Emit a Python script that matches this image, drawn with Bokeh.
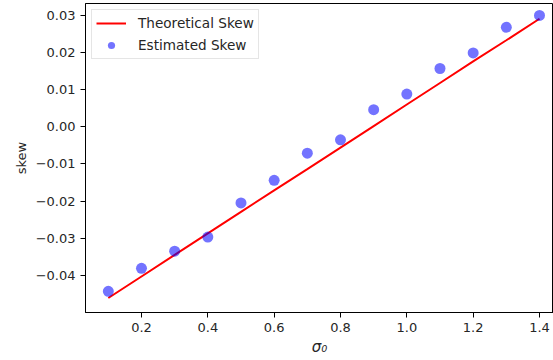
from bokeh.plotting import figure
from bokeh.models import Range1d, FixedTicker, CustomJSTickFormatter, Legend, LegendItem
from bokeh.embed import file_html
from bokeh.resources import INLINE

sigma0 = [0.1, 0.2, 0.3, 0.4, 0.5, 0.6, 0.7, 0.8, 0.9, 1.0, 1.1, 1.2, 1.3, 1.4]
theoretical_skew = [-0.0461, -0.0403, -0.0345, -0.0287, -0.0229, -0.0171, -0.0114,
                    -0.0056, 0.0002, 0.0060, 0.0118, 0.0176, 0.0233, 0.0291]
estimated_skew = [-0.0443, -0.0381, -0.0335, -0.0297, -0.0205, -0.0144, -0.0071,
                  -0.0035, 0.0046, 0.0088, 0.0157, 0.0199, 0.0268, 0.0300]
x_ticks = [0.2, 0.4, 0.6, 0.8, 1.0, 1.2, 1.4]
y_ticks = [-0.04, -0.03, -0.02, -0.01, 0.0, 0.01, 0.02, 0.03]

FONT = "DejaVu Sans"
TXT = "#262626"

p = figure(width=553, height=360, output_backend="svg", toolbar_location=None,
           x_range=Range1d(0.0312, 1.4422), y_range=Range1d(-0.05, 0.0332),
           min_border_left=85, min_border_right=0, min_border_top=3, min_border_bottom=48)
p.background_fill_color = "white"
p.border_fill_color = "white"
p.outline_line_color = "black"
p.outline_line_width = 1
p.xgrid.visible = False
p.ygrid.visible = False

for ax in (p.xaxis[0], p.yaxis[0]):
    ax.axis_line_color = "black"
    ax.major_tick_line_color = "black"
    ax.major_tick_out = 5
    ax.major_tick_in = 0
    ax.minor_tick_line_color = None
    ax.major_label_standoff = 5
    ax.major_label_text_font = FONT
    ax.major_label_text_font_size = "13px"
    ax.major_label_text_color = TXT
    ax.axis_label_text_font = FONT
    ax.axis_label_text_font_size = "13px"
    ax.axis_label_text_font_style = "normal"
    ax.axis_label_text_color = TXT

p.xaxis[0].ticker = FixedTicker(ticks=x_ticks)
p.yaxis[0].ticker = FixedTicker(ticks=y_ticks)
p.xaxis[0].formatter = CustomJSTickFormatter(code="return tick.toFixed(1).replace('-', '\\u2212');")
p.yaxis[0].formatter = CustomJSTickFormatter(code="return tick.toFixed(2).replace('-', '\\u2212');")
p.xaxis[0].axis_label = "σ₀"
p.xaxis[0].axis_label_text_font_style = "italic"
p.xaxis[0].axis_label_text_font_size = "15px"
p.yaxis[0].axis_label = "skew"
p.xaxis[0].axis_label_standoff = 3
p.yaxis[0].axis_label_standoff = 4

r_line = p.line(sigma0, theoretical_skew, line_color="#ff0000", line_width=2)
r_pts = p.scatter(sigma0, estimated_skew, size=11, fill_color="blue", fill_alpha=0.55,
                  line_color=None)

legend = Legend(items=[LegendItem(label="Theoretical Skew", renderers=[r_line]),
                       LegendItem(label="Estimated Skew", renderers=[r_pts])],
                location="top_left")
legend.margin = 6
legend.padding = 4
legend.spacing = 4
legend.glyph_width = 30
legend.glyph_height = 18
legend.label_standoff = 12
legend.label_text_font = FONT
legend.label_text_font_size = "13.6px"
legend.label_text_color = TXT
legend.border_line_color = "#cccccc"
legend.border_line_width = 1
legend.background_fill_alpha = 0.8
p.add_layout(legend)

open("out.html", "w").write(file_html(p, INLINE))
